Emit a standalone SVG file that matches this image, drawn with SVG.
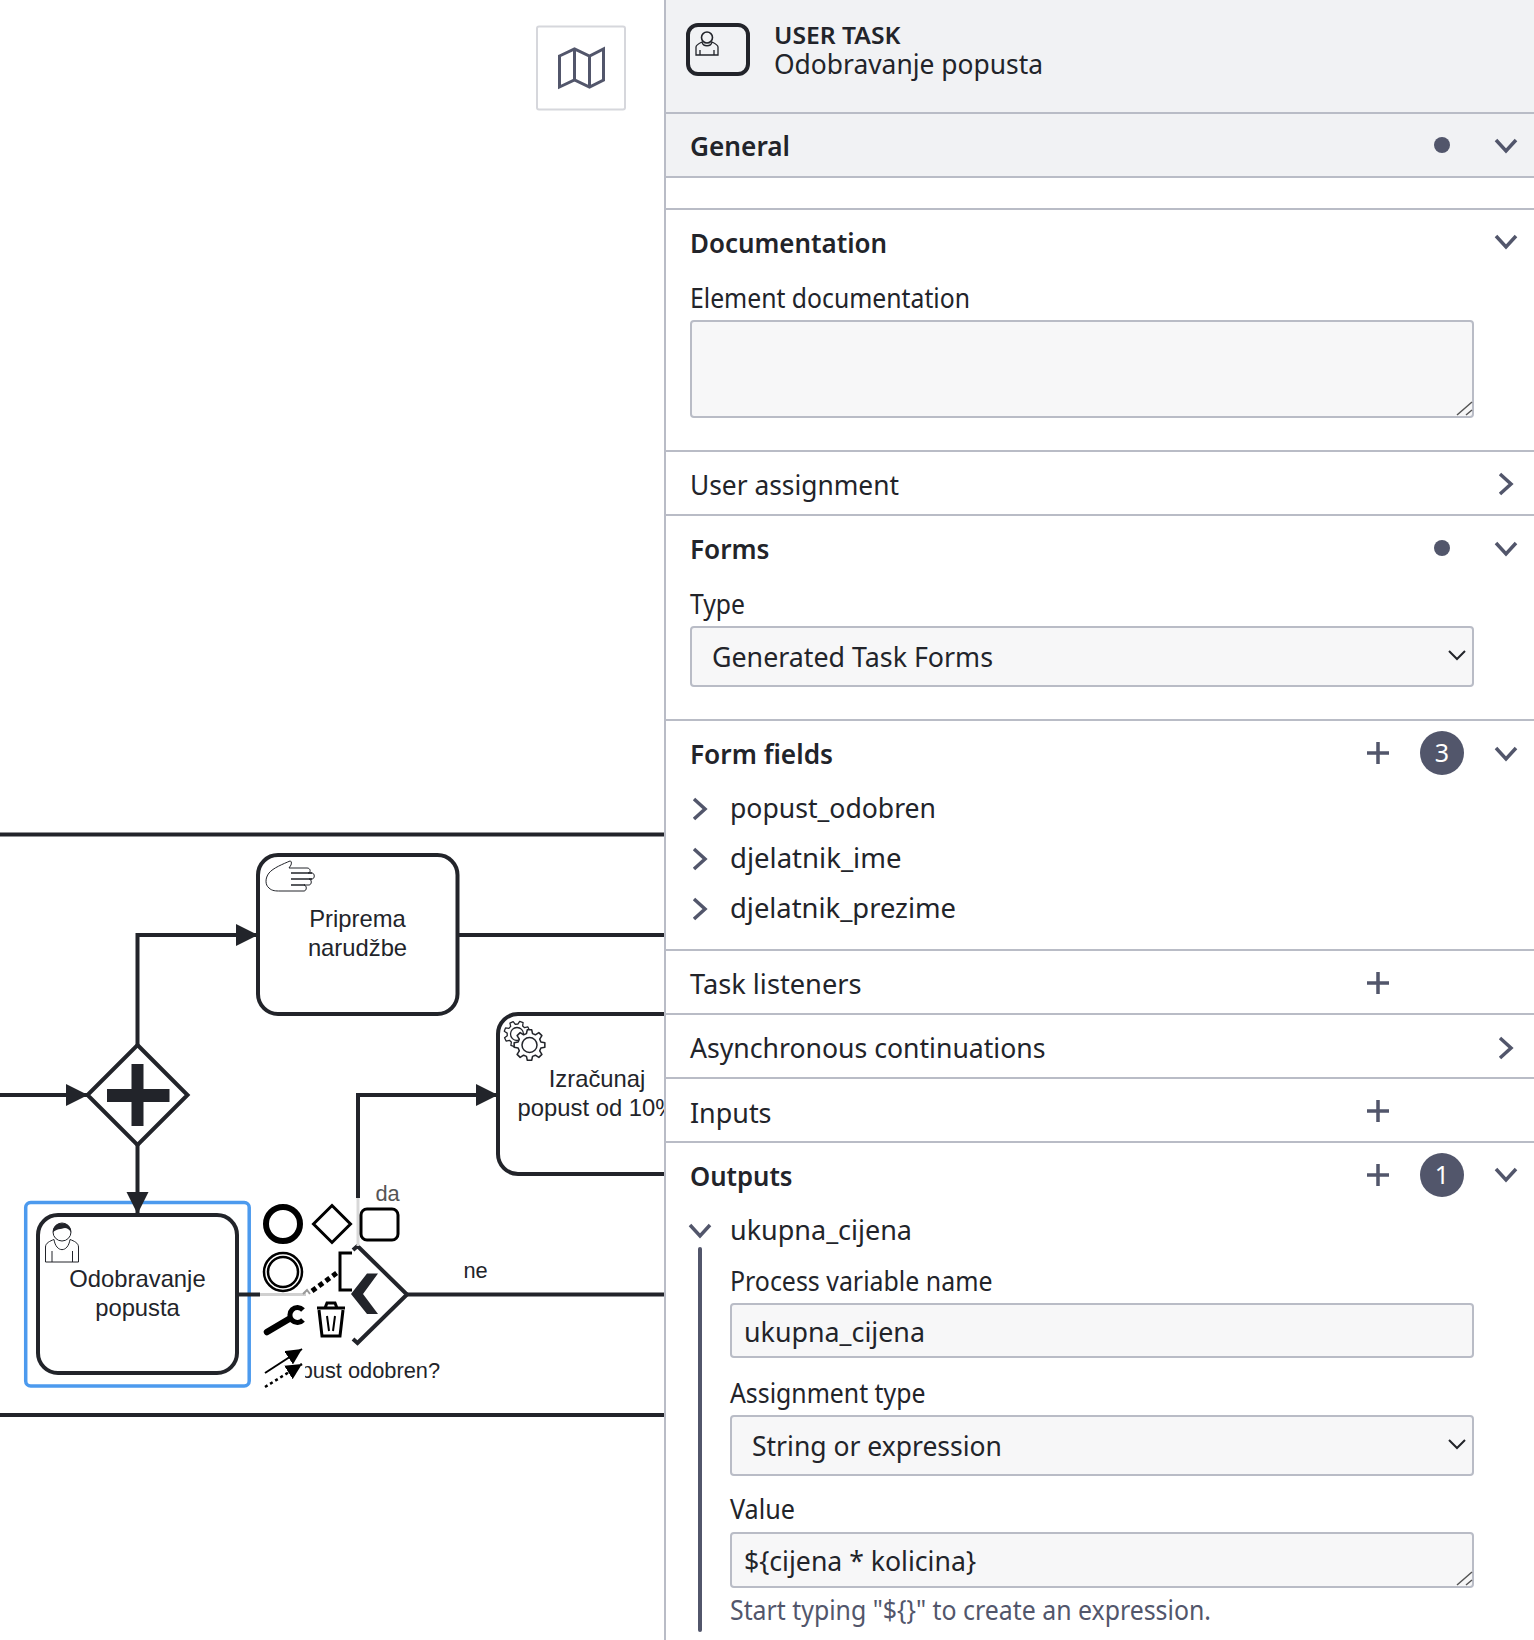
<svg xmlns="http://www.w3.org/2000/svg" xmlns:xlink="http://www.w3.org/1999/xlink" width="1534" height="1640" viewBox="0 0 1534 1640">
<style>
.f{fill:#fff;stroke:#22242a;stroke-width:4}
.c{fill:none;stroke:#22242a;stroke-width:4}
.l{font-family:"Liberation Sans",Arial,sans-serif;font-size:23.8px;fill:#22242a;text-anchor:middle}
.s{font-size:21.8px}
.t{font-family:"Noto Sans",sans-serif;font-size:27px;fill:#22242a}
.b{font-weight:600}
.g{fill:#52566b}
.h{fill:none;stroke:#b9bcc6;stroke-width:2}
.v{fill:none;stroke:#52566b;stroke-width:3.5}
.i{fill:#f7f7f8;stroke:#b9bcc6;stroke-width:2}
.k{fill:none;stroke:#000;stroke-width:3}
.w{fill:#fff;stroke:#22242a}
</style>
<defs>
<marker id="a" markerUnits="userSpaceOnUse" markerWidth="22" markerHeight="24" refX="22" refY="12" orient="auto"><path d="M0 1L22 12L0 23Z" fill="#22242a"/></marker>
<marker id="m" markerUnits="userSpaceOnUse" markerWidth="16" markerHeight="16" refX="16" refY="8" orient="auto"><path d="M0 0L16 8L0 16Z" fill="#000"/></marker>
<g id="user"><path d="M.5 40V25C.5 21 5 19 9 17.500C11 31 23 31 25 17.500C29 19 33.500 21 33.500 25V40Z" class="w" stroke-width="1"/><path d="M7 29V40M27.500 29V40" fill="none" stroke="#22242a" stroke-width="1"/><circle cx="17" cy="10" r="9" class="w" stroke-width="1"/><path d="M8 10.500C7 -2 27 -2 26 10.500C24 7 22 6 20 6C16 7 11 7 8 10.500Z" fill="#22242a"/></g>
<polygon id="gear" points="73.400,-19.700 99,-13.900 99,13.900 73.400,19.700 65.800,38 79.900,60.200 60.200,79.900 38,65.800 19.700,73.400 13.900,99 -13.900,99 -19.700,73.400 -38,65.800 -60.200,79.900 -79.900,60.200 -65.800,38 -73.400,19.700 -99,13.900 -99,-13.900 -73.400,-19.700 -65.800,-38 -79.900,-60.200 -60.200,-79.900 -38,-65.800 -19.700,-73.400 -13.900,-99 13.900,-99 19.700,-73.400 38,-65.800 60.200,-79.900 79.900,-60.200 65.800,-38" fill="#fff" stroke="#22242a" stroke-width="10" stroke-linejoin="round"/>
</defs>
<rect width="1534" height="1640" fill="#fff"/>
<g id="lanes">
<path class="c" d="M0 834.500H665M0 1415H665"/>
</g>
<g id="priprema">
<rect class="f" x="258" y="855" width="199.500" height="159" rx="20"/>
<path d="M290 861C283 864 273 868 269 873C265 878 265 885 269 888C272 891 276 891 280 891H304C307 891 307 885 304 885H309C312 885 312 879 309 879H312C315 879 315 873 312 873H308C311 873 311 868 307 868H289L291 865C292 862 291 861 290 861Z" fill="#fff" stroke="#22242a" stroke-width="1"/>
<path d="M291 873H312M291 879H312M291 885H305" fill="none" stroke="#22242a" stroke-width="1.500"/>
<text class="l" x="357.500" y="926.500">Priprema</text><text class="l" x="357.500" y="956">narudžbe</text>
</g>
<g id="izracunaj">
<rect class="f" x="498" y="1014" width="220" height="160" rx="20"/>
<use xlink:href="#gear" transform="translate(517 1034) rotate(20) scale(.13)"/>
<circle cx="517" cy="1034" r="6.500" fill="#fff" stroke="#22242a" stroke-width="1.300"/>
<use xlink:href="#gear" transform="translate(529.500 1045) scale(.155)"/>
<circle cx="529.500" cy="1045" r="7.500" fill="#fff" stroke="#22242a" stroke-width="1.500"/>
<text class="l" x="597" y="1086.500">Izračunaj</text><text class="l" x="597" y="1116">popust od 10%</text>
</g>
<g id="parallel-gateway">
<path class="f" d="M137.500 1045L187.500 1095L137.500 1145L87.500 1095Z"/>
<path d="M131.500 1064H143.500V1089H169.500V1102H143.500V1126H131.500V1102H107V1089H131.500Z" fill="#22242a"/>
</g>
<g id="odobravanje">
<rect x="25.700" y="1202.500" width="223.500" height="183.500" rx="5" fill="none" stroke="#4c9aee" stroke-width="3.500"/>
<rect class="f" x="38" y="1215" width="199" height="158" rx="20"/>
<use xlink:href="#user" x="45" y="1222"/>
<text class="l" x="137.500" y="1287">Odobravanje</text><text class="l" x="137.500" y="1316">popusta</text>
</g>
<g id="xor-gateway">
<path class="c" d="M353 1250L357.500 1246L407 1294.500L357.500 1343L353 1339"/>
<path d="M367 1273.500H378L363 1294L378 1314H367L351 1294Z" fill="#22242a"/>
<text class="l s" x="357" y="1378">Popust odobren?</text>
<rect x="262" y="1350" width="43" height="40" fill="#fff"/>
</g>
<g id="labels">
<text class="l s" x="387.500" y="1201" style="fill:#555">da</text>
<text class="l s" x="475.500" y="1278">ne</text>
</g>
<g id="connectors">
<path class="c" d="M0 1095H88" marker-end="url(#a)"/>
<path class="c" d="M137.500 1045V935H258" marker-end="url(#a)"/>
<path class="c" d="M458 935H665"/>
<path class="c" d="M137.500 1145V1214" marker-end="url(#a)"/>
<path class="c" d="M358 1198V1095H498" marker-end="url(#a)"/>
<path d="M358 1198V1246" fill="none" stroke="#d8d8d8" stroke-width="3"/>
<path class="c" d="M407 1294.500H665"/>
<path class="c" d="M239 1294.500H260"/>
<path d="M260 1294.500H306" fill="none" stroke="#d0d0d0" stroke-width="3"/>
<path d="M303 1294L307 1290L310 1294" fill="none" stroke="#999" stroke-width="2"/>
<path d="M312 1291L338 1272" fill="none" stroke="#000" stroke-width="5" stroke-dasharray="5 3.500"/>
</g>
<g id="context-pad">
<circle cx="283" cy="1224" r="17" fill="none" stroke="#000" stroke-width="6"/>
<path class="k" d="M332 1205.500L350.500 1224L332 1242.500L313.500 1224Z"/>
<rect class="k" x="361" y="1209" width="37" height="31" rx="6"/>
<circle cx="283" cy="1272" r="19" fill="none" stroke="#000" stroke-width="2.500"/><circle cx="283" cy="1272" r="15" fill="none" stroke="#000" stroke-width="2.500"/>
<path d="M352 1253H340V1290H352" class="k"/>
<path d="M267 1332L289 1319" fill="none" stroke="#000" stroke-width="6.500" stroke-linecap="round"/>
<path d="M303 1310A7.500 7.500 0 1 0 303 1320" fill="none" stroke="#000" stroke-width="5"/>
<path d="M317 1308H345M325 1308L327 1303H335L337 1308" fill="none" stroke="#000" stroke-width="3"/>
<path d="M319 1310L322 1336H340L343 1310" fill="none" stroke="#000" stroke-width="3"/>
<path d="M327 1316L329 1331M335 1316L333 1331" fill="none" stroke="#000" stroke-width="2"/>
<path d="M265 1373L302 1349" fill="none" stroke="#000" stroke-width="2" marker-end="url(#m)"/>
<path d="M265 1387L302 1364" fill="none" stroke="#000" stroke-width="2.500" stroke-dasharray="3 3" marker-end="url(#m)"/>
</g>
<g id="minimap-toggle">
<rect x="537" y="26.500" width="88" height="83" rx="2" fill="#fff" stroke="#d6d7dc" stroke-width="2"/>
<path d="M559.500 56L574.500 49L589.500 56L603.500 49V80L589.500 87L574.500 80L559.500 87ZM574.500 49V80M589.500 56V87" fill="none" stroke="#52566b" stroke-width="3"/>
</g>
<g id="properties-panel">
<rect x="665" width="869" height="1640" fill="#fff"/>
<rect x="665" width="869" height="177" fill="#f1f2f4"/>
<path class="h" d="M665 0V1640M665 113H1534M665 177H1534M665 209H1534M665 451H1534M665 515H1534M665 720H1534M665 950H1534M665 1014H1534M665 1078H1534M665 1142H1534"/>
<g id="panel-header">
<rect x="688" y="25" width="60" height="49" rx="10" fill="none" stroke="#22242a" stroke-width="4"/>
<path d="M696 55V47C696 45 700 43 702 42C703 47 711 47 712 42C714 43 718 45 718 47V55ZM700 50V55M714 50V55" fill="none" stroke="#22242a" stroke-width="1.300"/>
<circle cx="707" cy="37.500" r="5.500" fill="#f1f2f4" stroke="#22242a" stroke-width="1.600"/>
<text class="t b" x="774" y="44" style="font-size:24px" textLength="126.500" lengthAdjust="spacingAndGlyphs">USER TASK</text>
<text class="t" x="774" y="74" textLength="269" lengthAdjust="spacingAndGlyphs">Odobravanje popusta</text>
</g>
<g id="panel-sections">
<text class="t b" x="690" y="156" textLength="100" lengthAdjust="spacingAndGlyphs">General</text>
<text class="t b" x="690" y="253" textLength="197" lengthAdjust="spacingAndGlyphs">Documentation</text>
<text class="t" x="690" y="308" textLength="280" lengthAdjust="spacingAndGlyphs">Element documentation</text>
<rect class="i" x="691" y="321" width="782" height="96" rx="3"/>
<text class="t" x="690" y="494.500" textLength="209" lengthAdjust="spacingAndGlyphs">User assignment</text>
<text class="t b" x="690" y="559" textLength="79.500" lengthAdjust="spacingAndGlyphs">Forms</text>
<text class="t" x="690" y="614" textLength="55" lengthAdjust="spacingAndGlyphs">Type</text>
<rect class="i" x="691" y="627" width="782" height="59" rx="3"/>
<text class="t" x="712" y="667" textLength="281" lengthAdjust="spacingAndGlyphs">Generated Task Forms</text>
<text class="t b" x="690" y="764" textLength="143" lengthAdjust="spacingAndGlyphs">Form fields</text>
<text class="t" x="730" y="818" textLength="206" lengthAdjust="spacingAndGlyphs">popust_odobren</text>
<text class="t" x="730" y="868" textLength="171.500" lengthAdjust="spacingAndGlyphs">djelatnik_ime</text>
<text class="t" x="730" y="918" textLength="226" lengthAdjust="spacingAndGlyphs">djelatnik_prezime</text>
<text class="t" x="690" y="994" textLength="171.500" lengthAdjust="spacingAndGlyphs">Task listeners</text>
<text class="t" x="690" y="1058" textLength="355.500" lengthAdjust="spacingAndGlyphs">Asynchronous continuations</text>
<text class="t" x="690" y="1122.500" textLength="81.500" lengthAdjust="spacingAndGlyphs">Inputs</text>
<text class="t b" x="690" y="1186" textLength="102.500" lengthAdjust="spacingAndGlyphs">Outputs</text>
<text class="t" x="730" y="1240" textLength="182" lengthAdjust="spacingAndGlyphs">ukupna_cijena</text>
<rect x="698" y="1247" width="4" height="385" fill="#52566b" rx="2"/>
<text class="t" x="730" y="1291" textLength="262.500" lengthAdjust="spacingAndGlyphs">Process variable name</text>
<rect class="i" x="731" y="1304" width="742" height="53" rx="3"/>
<text class="t" x="744" y="1342" textLength="181" lengthAdjust="spacingAndGlyphs">ukupna_cijena</text>
<text class="t" x="730" y="1403" textLength="195.500" lengthAdjust="spacingAndGlyphs">Assignment type</text>
<rect class="i" x="731" y="1416" width="742" height="59" rx="3"/>
<text class="t" x="752" y="1456" textLength="250" lengthAdjust="spacingAndGlyphs">String or expression</text>
<text class="t" x="730" y="1519" textLength="65" lengthAdjust="spacingAndGlyphs">Value</text>
<rect class="i" x="731" y="1533" width="742" height="54" rx="3"/>
<text class="t" x="744" y="1571" textLength="232" lengthAdjust="spacingAndGlyphs">${cijena * kolicina}</text>
<text class="t" x="730" y="1620" style="fill:#52566b" textLength="481" lengthAdjust="spacingAndGlyphs">Start typing "${}" to create an expression.</text>
</g>
<g id="panel-controls">
<circle class="g" cx="1442" cy="145" r="8"/><circle class="g" cx="1442" cy="548" r="8"/>
<circle class="g" cx="1442" cy="753" r="22"/><circle class="g" cx="1442" cy="1175" r="22"/>
<text x="1442" y="762" text-anchor="middle" font-family="Noto Sans,sans-serif" font-size="25" fill="#fff">3</text>
<text x="1442" y="1184" text-anchor="middle" font-family="Noto Sans,sans-serif" font-size="25" fill="#fff">1</text>
<path class="v" d="M1496 140L1506 151L1516 140M1496 236L1506 247L1516 236M1496 543L1506 554L1516 543M1496 748L1506 759L1516 748M1496 1169L1506 1180L1516 1169"/>
<path class="v" d="M1500 474L1511 484L1500 494M1500 1038L1511 1048L1500 1058"/>
<path class="v" d="M694 799L705 809L694 819M694 849L705 859L694 869M694 899L705 909L694 919"/>
<path class="v" d="M690 1225L700 1236L710 1225"/>
<path d="M1367 753H1389M1378 742V764M1367 983H1389M1378 972V994M1367 1111H1389M1378 1100V1122M1367 1175H1389M1378 1164V1186" fill="none" stroke="#52566b" stroke-width="3.500"/>
<path d="M1449 651L1457 659L1465 651M1449 1440L1457 1448L1465 1440" fill="none" stroke="#22242a" stroke-width="2"/>
<path d="M1457 415L1472 402M1466 415L1472 410" fill="none" stroke="#555" stroke-width="1.500"/>
<path d="M1457 1585L1472 1572M1466 1585L1472 1580" fill="none" stroke="#555" stroke-width="1.500"/>
</g>
</g>
</svg>
